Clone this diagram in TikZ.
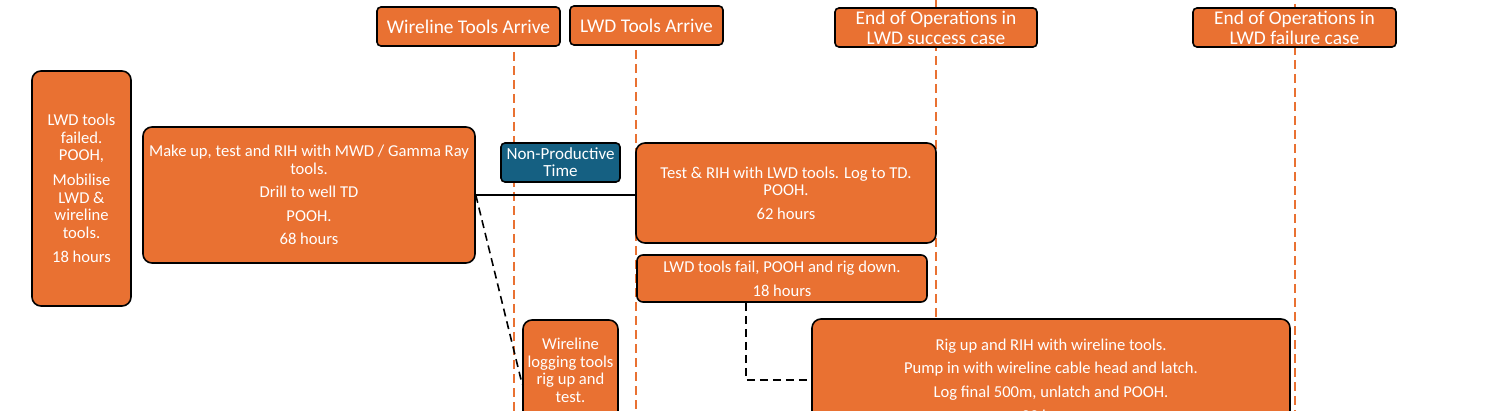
\documentclass[tikz,border=0pt]{standalone}
\usepackage{fontspec}
\setmainfont{Carlito}
\usetikzlibrary{positioning}
\definecolor{opsorange}{HTML}{E97132}
\definecolor{nptblue}{HTML}{156082}

\begin{document}
\begin{tikzpicture}[x=1pt,y=-1pt,
    stage/.style={draw=black,line width=1.6pt,fill=opsorange,rounded corners=9pt,
      text=white,align=center,inner sep=0pt,font=\fontsize{16.6}{17.6}\selectfont},
    milestone/.style={stage,rounded corners=4pt,font=\fontsize{19.4}{20}\selectfont},
    nptbox/.style={stage,fill=nptblue,rounded corners=4pt,font=\fontsize{17}{17}\selectfont},
    timeline/.style={draw=opsorange,line width=1.4pt,dash pattern=on 9pt off 5pt},
    link/.style={draw=black,line width=1.6pt},
    maybe/.style={link,dash pattern=on 8pt off 5pt}]

        \useasboundingbox (0,0) rectangle (1503,411);
        \clip (0,0) rectangle (1503,411);

        %------------------
        % time lines
        %------------------
        \draw[timeline] (514,52) -- (514,420);
        \draw[timeline] (636,50) -- (636,420);
        \draw[timeline] (936,0) -- (936,420);
        \draw[timeline] (1295,4) -- (1295,420);

        %------------------
        % milestones
        %------------------
        \node[milestone,minimum width=183pt,minimum height=39pt] (wlarrive) at (468.5,26.5) {Wireline Tools Arrive};
        \node[milestone,minimum width=153pt,minimum height=39pt] (lwdarrive) at (646.5,25.5) {LWD Tools Arrive};
        \node[milestone,minimum width=202pt,minimum height=39pt] (endok) at (936,27.5) {End of Operations in\\LWD success case};
        \node[milestone,minimum width=203pt,minimum height=39pt] (endfail) at (1294.5,27.5) {End of Operations in\\LWD failure case};

        %------------------
        % operations
        %------------------
        \node[stage,minimum width=99pt,minimum height=235pt] (failed) at (81.5,188.5)
          {LWD tools\\failed.\\POOH,\\[7pt]Mobilise\\LWD \&\\wireline\\tools.\\[7pt]18 hours};
        \node[stage,minimum width=332pt,minimum height=136pt] (makeup) at (309,195)
          {Make up, test and RIH with MWD / Gamma Ray\\tools.\\[6pt]Drill to well TD\\[6pt]POOH.\\[6pt]68 hours};
        \node[nptbox,minimum width=119pt,minimum height=39pt] (npt) at (560.5,162.5) {Non-Productive\\Time};
        \node[stage,minimum width=300pt,minimum height=100pt] (lwdlog) at (786,193)
          {Test \& RIH with LWD tools. Log to TD.\\POOH.\\[6pt]62 hours};
        \node[stage,rounded corners=6pt,minimum width=290pt,minimum height=47pt] (lwdfail) at (782,278.5)
          {LWD tools fail, POOH and rig down.\\[6pt]18 hours};
        \node[stage,minimum width=95pt,minimum height=101pt] (wlprep) at (570.5,370.5)
          {Wireline\\logging tools\\rig up and\\test.};
        \node[stage,minimum width=478pt,minimum height=122pt] (wlrun) at (1051,380)
          {Rig up and RIH with wireline tools.\\[6pt]Pump in with wireline cable head and latch.\\[6pt]Log final 500m, unlatch and POOH.\\[6pt]22 hours};

        %------------------
        % connectors
        %------------------
        \draw[link] (makeup.east) -- (makeup.east -| lwdlog.west);
        \draw[maybe] (makeup.east) -- ([yshift=-14pt]wlprep.west);
        \draw[maybe] ([xshift=-36pt]lwdfail.south) |- (wlrun.west);
\end{tikzpicture}
\end{document}
